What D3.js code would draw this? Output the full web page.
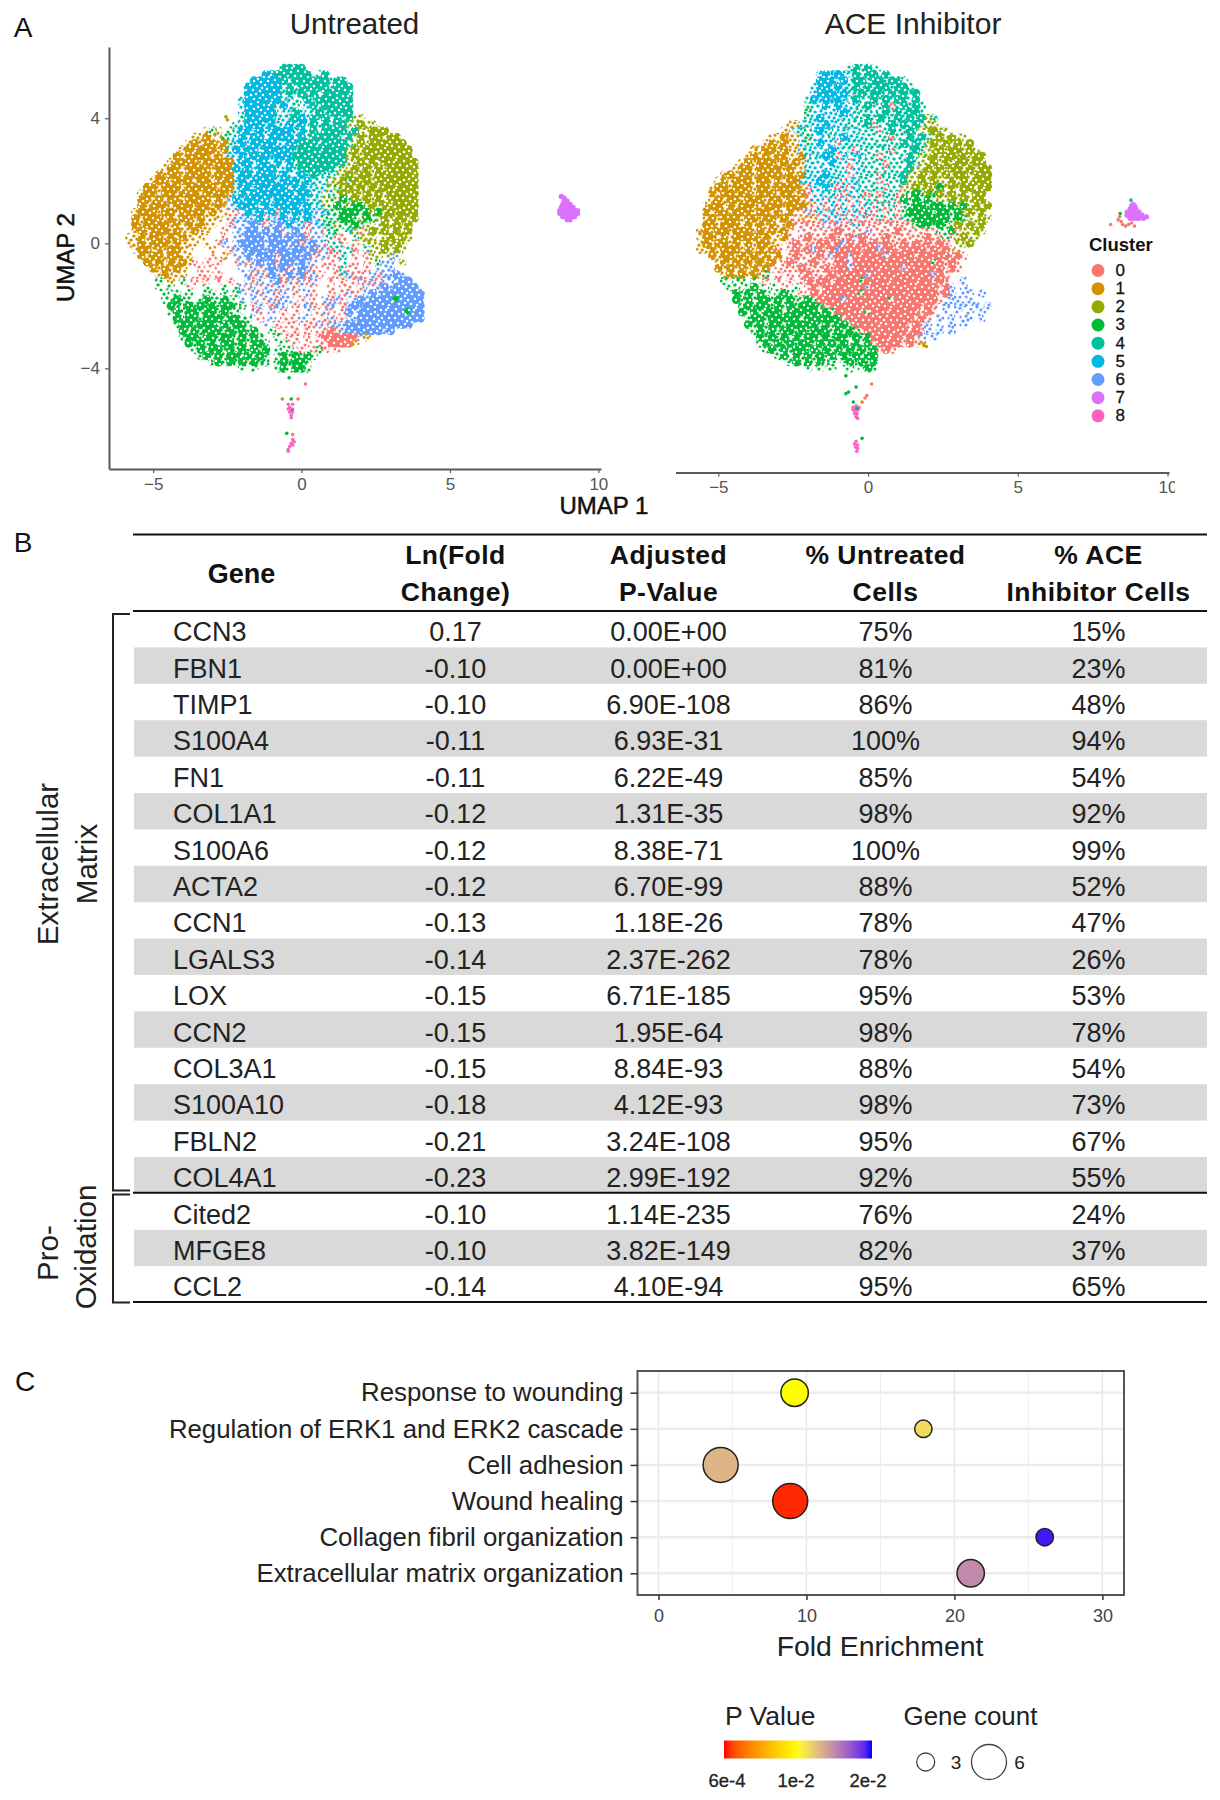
<!DOCTYPE html>
<html><head><meta charset="utf-8">
<script src="https://cdn.jsdelivr.net/npm/d3@7"></script>
<style>
html,body{margin:0;padding:0;background:#fff}
svg{display:block}
text{font-family:"Liberation Sans",Arial,sans-serif}
</style></head><body>
<svg id="fig" width="1220" height="1800" viewBox="0 0 1220 1800"></svg>
<script>
// ---------- Panel A data ----------
const clusterIds = ["0","1","2","3","4","5","6","7","8"];
const clusterColors = ["#F8766D","#D39200","#93AA00","#00BA38","#00C19F","#00B9E3","#619CFF","#DB72FB","#FF61C3"];
// Dominant cluster on a 0.2-unit UMAP lattice.
// [first column, y, cells]; digit = dense cell of that cluster, letter a-g = sparse cell of cluster 0-6, "." = empty.
const untreatedCells = [
[27,5.6,"4444"],
[24,5.4,"55444444.e4"],
[22,5.2,"555554e444444e44"],
[21,5.0,"555555e4e44444e444"],
[21,4.8,"555555e4e4e4e44444"],
[20,4.6,"f555555efee4e444444"],
[20,4.4,"f55555e5fe.f4e44444"],
[20,4.2,"f55555fef4efe4e4444"],
[20,4.0,"d55555efe45f4e4e4e4cc"],
[19,3.8,"ef555f5ef5f5e4e4e44cc2cc"],
[14,3.6,"bdb.df55f5f5555e5e4e4444e4cc222"],
[12,3.4,"bb1bbdef5f55f5555f5e44444e4c2c22c22"],
[11,3.2,"b1b11b1ef5f5555ff55444e4444ec2c222222"],
[10,3.0,"b11111b1f5f55f55555e44444444c2c22222222"],
[9,2.8,"1b1111b1bff5f555f555444444444c2c22222222"],
[8,2.6,"b1111b11111f55f55f5f5e44444444cc2c2c222222"],
[7,2.4,"b11b1111b1115f5f555ef5e444444ecc2c2c2c22222"],
[6,2.2,"1b11b1111b111f55f555f5ff5e4efecc2c22c2222222"],
[5,2.0,"b11b111b11b111f5f5555f555e5eeecc2d2c2c2222222"],
[4,1.8,"11b111b11111b11f55f55555f55efefcdc2c2c2c222222"],
[3,1.6,"b11b11b111b1111bf5f5555555f55efcec2c2c2c2c22222"],
[3,1.4,"11b1b11b1111b1bg5f5555f55555ffecdc3d2c2c2c22222"],
[3,1.2,"1b111b111b11b1bgf555f5f5555f5efcd3dc33c2c2c2222"],
[2,1.0,"b111b11b1111b1bb.ag5f5g5a5f5f5fgfdd333d3c3c2c222"],
[2,0.8,"1b111b1b11b1bbb.aggfg5afg5g5f5gfded33dc3dc2c22c2"],
[2,0.6,"1b1111b1b1b1bb..aggg6gag6g5gfagfedcdd3dc.c2c2c2"],
[2,0.4,"b1b111b1bb1bb..a.gg66g6g6ag6gaggaed.ecac2c2c2c2"],
[1,0.2,"bb1b11b1b1bbb...a.gg666g66g6g6aggeeaa.eccc.c2c2c"],
[1,0.0,"bb1b111b1bbb.b.ag.g6666g666g6ag6gaeea.a.ccc2c2c"],
[2,-0.2,"b11b1b11bb...b..agg666g666g66g6agaeeea.ecc2c2c"],
[3,-0.4,"1b11b11bb...a.b.gg6g666a666g6aggaae.a.acc.cg"],
[4,-0.6,"1b1b1b1ba.a.a..agag6g6a66g6gg.aa.e.a.a.dgg.c"],
[5,-0.8,"1b1b1b..a.a....g.gag6g6ag6ga.a.aeaa.a.ggg."],
[6,-1.0,"b1bbb..aa.a....gaga6ga6g6aga..aegaa.gagg6g"],
[6,-1.2,"d.b.d.a.a.a.a..gag.g6agagag..a.a.agagaggg66"],
[6,-1.4,"d.d..a..d..d.dgagagagagag.a..a.aa.agag6g6666"],
[7,-1.6,"d.d.d..dd.d.dg.gaggag.a.ga..a.aga.g6g6666666"],
[7,-1.8,"dd3dd.d3dd3d.g.g.agagg.a.a.gaga.g6g666636666"],
[8,-2.0,"3dd3d3d3d33dd.ag.agg.a.ga.ag.ag6g6666666666"],
[8,-2.2,"d3d33d33d3dd..ga.g.a.a.g.aga.a6g66666666366"],
[9,-2.4,"3d33d333d33dd.a.g.aa.g.a.agaagg66666666666"],
[9,-2.6,"d33d333d3d33d..g.a.aa.aagaggg66666666666"],
[10,-2.8,"3d3d333d3d3d3..d.a.a.a.aa0ag666666g6."],
[10,-3.0,"d33d33d33d3d3d..d.aa.a.a000000gb"],
[11,-3.2,"3d3d3d33d3d33d..d.a.a.aa0000b"],
[12,-3.4,"d3d33d3d3d3d3.d.d.a.ada.a"],
[13,-3.6,"d3d3d33d3d3d.d3d3d3d"],
[15,-3.8,"d3d3d3d3dd.d3d33d"],
[20,-4.0,"d.d...d3d33d"]
];
const aceCells = [
[27,5.6,"e4e4e"],
[22,5.4,"f5f5ff4e44e4"],
[22,5.2,"555f5e44e44e44e"],
[21,5.0,"f55f5fe4e4e44e44e"],
[21,4.8,"f555f5fe4e44e4e4e4"],
[20,4.6,"e5f5f5fe4ee4e4e44e4"],
[20,4.4,"dff5f5fffe4ee4ae4e4e"],
[20,4.2,"dfffff5feeefe4e4e44e"],
[20,4.0,"ef5fffefee4e4ee4e4e4ce"],
[17,3.8,"bbfeff5fffeee4aee4e4e4ecc"],
[16,3.6,"bbfedf5fefeffeeeae4ee4ecc2cc"],
[14,3.4,"bb1bbfdfffef5fefeeeeaee4e4ec2c2cc"],
[13,3.2,"b1b1bbfdf5ffafefeeeeeee4e4ec2c2c2c2"],
[11,3.0,"bb11b1bbfefff5fefaeeeeeaeee4ecc2c22c2c"],
[10,2.8,"b1b1b11bb1fef5fafeffeeaeeee4ecc2c22c2c22"],
[9,2.6,"b1b111b1b1bfeff5ffafeeeeaeee4ecc2c2c22c22"],
[8,2.4,"b11b1111b1bbeffffefaffeeeaeee4cc2c2c22c2c22"],
[6,2.2,"b1b11b1111b1b1eff5fefafeeeaeee4cc2c2c2c22c222"],
[5,2.0,"b1b111b11b1b11fff5fefaffeeeaeee4cc2c2cc2c2c222"],
[4,1.8,"b11b111b11b1111baff5fafafeeeeaeeac2c2c3c2c22c22"],
[4,1.6,"1b11b11b111b11b1afffefaffeaeaeeacd3d2d2c2c2c22"],
[4,1.4,"b1b11b111b11b11baffafafafaeeaeea3d3d3dcc2c2c22"],
[3,1.2,"b11b1b111b111b111bafafafafafaeaeaed33d33d3c3c2c2"],
[3,1.0,"1b11b111b11b1b1bagafafafafafaeaead3333d33d3c2c2"],
[3,0.8,"b1b111b11b11b1bababafafafafaaeaeaed333333d3dcc2c"],
[3,0.6,"11b111b1b1b1bb1aaaaagagaafaaaaaaaaad33d3dc2c2c2"],
[2,0.4,"b1b11b111b1b1b1a.aaaaaa0aaaagaaaa0aaaaaadd3acc2c"],
[2,0.2,"b11b1b1111b1bb1a.a0aaa0aa0g0aaa0aaaaaa0aadac2cc"],
[2,0.0,"b1b11b1b1b11bb.a0aaa00a0g0a0a0a0aa0a0a0a0a.cc2"],
[2,-0.2,"bb1b111b1b1b1a.a0a0g0a0g000a00g00a0000a0a0ac."],
[4,-0.4,"1b11b1b1b1b1.a0aaa0ag00g00000g0000a00000a0a"],
[5,-0.6,"b1b1b1b1b1.a0aaa0aaa00g0000000000000d0a0a"],
[5,-0.8,"1b1b1b1b1a.aaa0aaa0a00g00000000g000000a0a"],
[6,-1.0,"b1b1b1bd.a.a.a0aaa0a0000g0000000000g0a."],
[6,-1.2,"d.dd.d.a.a.a.a0a00a0000d00000000000a0a..g"],
[7,-1.4,"dd.d3d.d.a.d.a0a0000000g00000000000a0g.g"],
[8,-1.6,"3d3d3d.d3d.a.0a000000d000000000000a0g.gg.g"],
[8,-1.8,"3d3d33d3d3dd3d0000g0000000d0000000a.gg.g."],
[9,-2.0,"d3d33d3d3d333da000000000000000a0a.g.gg.g.g"],
[9,-2.2,"3d3d333d33333d3d00000d00000000a0a.g.g.g.g"],
[10,-2.4,"d33d33333d333333a00000000000a0a.g.g.gg.g"],
[10,-2.6,"3d3d33d33333d3d33d000000000a0ag.g.g.g."],
[11,-2.8,"d3d3d33d3d333d3d3da0000000a0ag.g.g"],
[12,-3.0,"3d3d3d3d33d3d33d3d300000a0ag.g"],
[12,-3.2,"d3d3d3d33d3d3d3d3d3a0000a0ab"],
[13,-3.4,"d3d3d33d3d3d3d3d3d3a0a"],
[15,-3.6,"d3d3d3d3d3d3d3d33"],
[17,-3.8,"d3d3d3dd.d3d3d3"],
[20,-4.0,"d.d.d..d.d3d"]
];
// Small islands: [cluster, UMAP x, UMAP y]
const untreatedIslands = [
[7,8.75,1.5],[7,8.85,1.45],[7,8.85,1.35],[7,8.95,1.35],[7,8.8,1.25],[7,8.95,1.25],[7,9.05,1.25],[7,8.75,1.15],[7,8.85,1.15],[7,8.95,1.15],[7,9.05,1.15],[7,9.15,1.15],
[7,8.7,1.05],[7,8.8,1.05],[7,8.9,1.05],[7,9,1.05],[7,9.1,1.05],[7,9.2,1.05],[7,9.3,1.05],[7,8.7,.95],[7,8.8,.95],[7,8.9,.95],[7,9,.95],[7,9.1,.95],[7,9.2,.95],[7,9.3,.95],
[7,8.8,.85],[7,8.9,.85],[7,9,.85],[7,9.1,.85],[7,9.2,.85],[7,8.95,.75],[7,9.05,.75],
[8,-.45,-5.15],[8,-.3,-5.15],[8,-.4,-5.25],[8,-.3,-5.3],[8,-.45,-5.3],[3,-.33,-5.35],[8,-.4,-5.4],[8,-.3,-5.4],[8,-.35,-5.5],[8,-.35,-5.58],
[8,-.3,-6.28],[8,-.25,-6.35],[8,-.35,-6.4],[8,-.3,-6.45],[8,-.4,-6.5],[8,-.45,-6.6],[8,-.45,-6.65],
[3,-.42,-4.3],[0,.13,-4.5],[1,-.65,-4.98],[3,-.35,-4.98],[0,-.12,-4.98],[3,-.5,-6.08],[0,-.3,-6.12],[2,-2.55,4.05],[1,-2.5,3.95]
];
const aceIslands = [
[4,8.78,1.38],[7,8.85,1.25],[7,8.8,1.2],[7,8.9,1.2],[7,8.75,1.1],[7,8.85,1.1],[7,8.95,1.1],[7,8.65,1],[7,8.75,1],[7,8.85,1],[7,8.95,1],[7,9.05,1],
[7,8.65,.9],[7,8.75,.9],[7,8.85,.9],[7,8.95,.9],[7,9.05,.9],[7,9.15,.9],[7,9.3,.85],[7,8.75,.8],[7,8.85,.8],[7,8.95,.8],[7,9.05,.8],[7,9.2,.8],
[0,8.1,.6],[0,8.4,.85],[0,8.35,.75],[0,8.45,.7],[0,8.5,.6],[0,8.6,.55],[0,8.7,.6],[0,8.8,.65],[0,8.9,.55],[3,8.42,.95],
[8,-.5,-5.25],[8,-.4,-5.2],[8,-.3,-5.25],[8,-.5,-5.33],[8,-.42,-5.35],[8,-.33,-5.33],[3,-.38,-5.28],[8,-.45,-5.45],[8,-.37,-5.45],[8,-.4,-5.55],[8,-.35,-5.6],
[8,-.4,-6.33],[8,-.45,-6.42],[8,-.35,-6.45],[8,-.42,-6.52],[8,-.35,-6.56],[8,-.38,-6.65],
[3,-.74,-4.24],[0,.12,-4.5],[0,-.04,-4.87],[0,-.1,-4.95],[3,-.74,-4.81],[3,-.65,-4.76],[3,-.4,-4.6],[3,-.49,-5.08],[1,-.2,-5.08],[3,-.2,-6.24],[1,1.95,-3.3],[1,1.85,-3.22]
];
const umapXTicks = [-5,0,5,10];
const umapYTicks = [-4,0,4];
// Hand-placed stipple tiles used as the fill of lattice cells (a style, not data).
const speckleHoles = [[2,3],[9,1],[15,4],[22,2],[26,7],[5,8],[12,9],[19,8],[1,12],[8,13],[16,12],[23,12],[4,17],[11,18],[18,16],[25,17],[2,22],[7,21],[14,22],[21,21],[26,24],[5,26],[11,25],[17,26],[23,27],[13,15],[20,4],[9,6]];
const speckleDots = [[1,1],[6,2],[11,0],[17,3],[23,1],[27,4],[3,6],[9,5],[14,7],[20,6],[25,9],[0,10],[6,11],[12,10],[17,12],[22,12],[27,13],[3,15],[9,15],[14,14],[20,16],[25,17],[1,19],[6,19],[12,19],[17,21],[23,20],[27,21],[4,23],[9,24],[15,24],[20,25],[25,25],[1,26],[7,27],[12,27],[18,27],[23,27]];

// ---------- Panel B data ----------
const genes = ["CCN3","FBN1","TIMP1","S100A4","FN1","COL1A1","S100A6","ACTA2","CCN1","LGALS3","LOX","CCN2","COL3A1","S100A10","FBLN2","COL4A1","Cited2","MFGE8","CCL2"];
const lnFoldChange = ["0.17","-0.10","-0.10","-0.11","-0.11","-0.12","-0.12","-0.12","-0.13","-0.14","-0.15","-0.15","-0.15","-0.18","-0.21","-0.23","-0.10","-0.10","-0.14"];
const adjustedP = ["0.00E+00","0.00E+00","6.90E-108","6.93E-31","6.22E-49","1.31E-35","8.38E-71","6.70E-99","1.18E-26","2.37E-262","6.71E-185","1.95E-64","8.84E-93","4.12E-93","3.24E-108","2.99E-192","1.14E-235","3.82E-149","4.10E-94"];
const pctUntreated = ["75%","81%","86%","100%","85%","98%","100%","88%","78%","78%","95%","98%","88%","98%","95%","92%","76%","82%","95%"];
const pctAce = ["15%","23%","48%","94%","54%","92%","99%","52%","47%","26%","53%","78%","54%","73%","67%","55%","24%","37%","65%"];

// ---------- Panel C data ----------
const terms = ["Response to wounding","Regulation of ERK1 and ERK2 cascade","Cell adhesion","Wound healing","Collagen fibril organization","Extracellular matrix organization"];
const foldEnrichment = [9.2,17.9,4.2,8.9,26.1,21.1];
const pValues = [0.0100,0.0115,0.0131,0.0010,0.0195,0.0150];
const geneCounts = [4,3,6,6,3,4];
const foldTicks = [0,10,20,30];
const foldMinor = [5,15,25];
const pTicks = [0.0006,0.01,0.02];
const pTickLabels = ["6e-4","1e-2","2e-2"];
const countLegend = [3,6];

// ---------- Drawing ----------
const svg = d3.select("#fig");
const ink = "#1c1c1c", axisInk = "#5a5a5a";
const defsRoot = svg.append("defs");

function label(g,x,y,t,size,opts={}){
  const s = g.append("text").attr("x",x).attr("y",y).attr("font-size",size)
    .attr("fill",opts.fill||ink).attr("text-anchor",opts.anchor||"middle")
    .attr("dominant-baseline","central").text(t);
  if(opts.weight) s.attr("font-weight",opts.weight);
  if(opts.stroke) s.attr("stroke",opts.fill||ink).attr("stroke-width",opts.stroke);
  if(opts.ls) s.attr("letter-spacing",opts.ls);
  if(opts.rotate) s.attr("transform",`rotate(${opts.rotate} ${x} ${y})`);
  return s;
}
[["A",23,27],["B",23,542],["C",25,1381]].forEach(d=>label(svg,d[1],d[2],d[0],28,{fill:"#111"}));

const color = d3.scaleOrdinal(clusterIds,clusterColors);
// stipple fills, one dense and one sparse per cluster
clusterIds.forEach((k,i)=>{
  const tf = `translate(${i*5},${i*9})`;
  const dp = defsRoot.append("pattern").attr("id","dense"+k).attr("width",28).attr("height",28)
    .attr("patternUnits","userSpaceOnUse").attr("patternTransform",tf);
  dp.append("rect").attr("width",28).attr("height",28).attr("fill",color(k));
  speckleHoles.forEach(p=>dp.append("circle").attr("cx",p[0]).attr("cy",p[1]).attr("r",1.25).attr("fill","#fff"));
  const sp = defsRoot.append("pattern").attr("id","sparse"+k).attr("width",28).attr("height",28)
    .attr("patternUnits","userSpaceOnUse").attr("patternTransform",tf);
  speckleDots.forEach(p=>sp.append("circle").attr("cx",p[0]).attr("cy",p[1]).attr("r",1.6).attr("fill",color(k)));
});
const blur = defsRoot.append("filter").attr("id","soft").attr("x","-2%").attr("y","-2%").attr("width","104%").attr("height","104%");
blur.append("feGaussianBlur").attr("stdDeviation",0.35);

const sparseCodes = "abcdefg";
function expand(rows){
  const out=[];
  rows.forEach(([c0,y,cells])=>{
    [...cells].forEach((ch,i)=>{
      if(ch===".") return;
      const sp = sparseCodes.indexOf(ch);
      out.push({col:c0+i,y,k:sp>=0?String(sp):ch,sparse:sp>=0});
    });
  });
  return out;
}
function umap(cfg){
  const g = svg.append("g");
  const x = d3.scaleLinear().domain(cfg.xd).range(cfg.xr);
  const y = d3.scaleLinear().domain([-7.22,6.28]).range([469,47]);
  const cols = d3.scaleLinear().domain([0,50]).range([-6,4]);
  const cells = expand(cfg.cells);
  const dots = g.append("g").attr("filter","url(#soft)");
  dots.append("g").selectAll("circle").data(cells).join("circle")
    .attr("cx",d=>x(cols(d.col))).attr("cy",d=>y(d.y))
    .attr("r",4.4)
    .attr("fill",d=>`url(#${d.sparse?"sparse":"dense"}${d.k})`);
  dots.append("g").selectAll("circle").data(cfg.islands).join("circle")
    .attr("cx",d=>x(d[1])).attr("cy",d=>y(d[2]))
    .attr("r",d=>d[0]===7?2.6:1.8)
    .attr("fill",d=>color(String(d[0])));
  const ax = g.append("g").attr("transform",`translate(0,${cfg.axisY})`)
    .call(d3.axisBottom(x).tickValues(umapXTicks).tickSizeInner(4).tickSizeOuter(0).tickPadding(cfg.pad));
  ax.select(".domain").attr("stroke",axisInk).attr("stroke-width",2);
  ax.selectAll(".tick line").attr("stroke",axisInk).attr("stroke-width",1.2);
  ax.selectAll("text").attr("font-size",17).attr("fill","#555");
  if(cfg.yAxis){
    const ay = g.append("g").attr("transform",`translate(${cfg.xr[0]},0)`)
      .call(d3.axisLeft(y).tickValues(umapYTicks).tickSizeInner(4).tickSizeOuter(0).tickPadding(5));
    ay.select(".domain").attr("stroke",axisInk).attr("stroke-width",2);
    ay.selectAll(".tick line").attr("stroke",axisInk).attr("stroke-width",1.2);
    ay.selectAll("text").attr("font-size",17).attr("fill","#555");
  }
  label(g,cfg.titleX,23.5,cfg.title,cfg.titleSize,{fill:"#222"});
}
umap({title:"Untreated",titleSize:29.5,titleX:354.5,cells:untreatedCells,islands:untreatedIslands,xd:[-6.49,10.09],xr:[109,601],axisY:469,yAxis:true,pad:5});
umap({title:"ACE Inhibitor",titleSize:30,titleX:913,cells:aceCells,islands:aceIslands,xd:[-6.43,10.05],xr:[675.5,1169],axisY:472.6,yAxis:false,pad:4});
// right edge of the ACE panel's last tick label is cropped in the figure
svg.append("rect").attr("x",1175).attr("y",474).attr("width",12).attr("height",24).attr("fill","#fff");
label(svg,65,257.5,"UMAP 2",24,{rotate:-90,fill:"#111",stroke:.5});
label(svg,604,505,"UMAP 1",24,{fill:"#111",stroke:.5});

// Cluster legend
const lg = svg.append("g");
label(lg,1089,244,"Cluster",18.5,{anchor:"start",weight:"bold",fill:"#111"});
const ly = d3.scalePoint().domain(clusterIds).range([270.5,415.8]);
lg.selectAll("circle").data(clusterIds).join("circle")
  .attr("cx",1098).attr("cy",d=>ly(d)).attr("r",6.5).attr("fill",d=>color(d));
clusterIds.forEach(k=>label(lg,1115.5,ly(k),k,17,{anchor:"start",fill:"#111",stroke:.3}));

// Table
const tb = svg.append("g");
const rowY = d3.scaleBand().domain(d3.range(genes.length)).range([611,611+19*36.4]);
tb.selectAll("rect").data(d3.range(genes.length).filter(i=>i%2===1)).join("rect")
  .attr("x",134).attr("width",1073).attr("y",i=>rowY(i)).attr("height",rowY.bandwidth()).attr("fill","#d9d9d9");
const colX = [455.5,668.5,885.5,1098.5];
const hdr = {fill:"#111",weight:"bold"};
label(tb,241.5,574,"Gene",27,hdr);
[["Ln(Fold","Change)"],["Adjusted","P-Value"],["% Untreated","Cells"],["% ACE","Inhibitor Cells"]].forEach((h,i)=>{
  label(tb,colX[i],554.5,h[0],26.5,{...hdr,ls:.5});
  label(tb,colX[i],591.5,h[1],26.5,{...hdr,ls:.5});
});
const cols = [lnFoldChange,adjustedP,pctUntreated,pctAce];
genes.forEach((g,i)=>{
  const cy = rowY(i)+rowY.bandwidth()/2+3;
  label(tb,173,cy,g,27,{anchor:"start",fill:"#222"});
  cols.forEach((c,j)=>label(tb,colX[j],cy,c[i],27,{fill:"#222"}));
});
[534.5,611,1192.7,1302].forEach(y=>tb.append("line").attr("x1",133).attr("x2",1207).attr("y1",y).attr("y2",y).attr("stroke","#111").attr("stroke-width",2));
[[614,1190.5],[1194.5,1302.5]].forEach(([a,b])=>{
  tb.append("path").attr("d",`M130,${a}H113V${b}H130`).attr("fill","none").attr("stroke","#222").attr("stroke-width",2);
});
label(tb,47,864,"Extracellular",29.5,{rotate:-90,fill:"#222"});
label(tb,86,864,"Matrix",29.5,{rotate:-90,fill:"#222"});
label(tb,47,1253,"Pro-",29.5,{rotate:-90,fill:"#222"});
label(tb,85,1247,"Oxidation",29.5,{rotate:-90,fill:"#222"});

// Panel C
const pc = svg.append("g");
const px = d3.scaleLinear().domain([-1.42,31.46]).range([637.5,1124]);
const py = d3.scalePoint().domain(terms).range([1392.7,1573.3]);
const pColor = d3.scaleLinear().domain(pTicks).range(["#ff0000","#ffff00","#0000ff"]).interpolate(d3.interpolateLab);
const pSize = d3.scaleLinear().domain([3,4,6]).range([8.7,13.7,17.5]);
foldMinor.forEach(v=>pc.append("line").attr("x1",px(v)).attr("x2",px(v)).attr("y1",1371).attr("y2",1595).attr("stroke","#efefef").attr("stroke-width",1));
foldTicks.forEach(v=>pc.append("line").attr("x1",px(v)).attr("x2",px(v)).attr("y1",1371).attr("y2",1595).attr("stroke","#e6e6e6").attr("stroke-width",1.5));
terms.forEach(t=>pc.append("line").attr("x1",637.5).attr("x2",1124).attr("y1",py(t)).attr("y2",py(t)).attr("stroke","#ececec").attr("stroke-width",2.5));
pc.append("rect").attr("x",637.5).attr("y",1371).attr("width",486.5).attr("height",224).attr("fill","none").attr("stroke","#555").attr("stroke-width",2);
const pxA = pc.append("g").attr("transform","translate(0,1595)")
  .call(d3.axisBottom(px).tickValues(foldTicks).tickSize(5).tickPadding(9));
pxA.select(".domain").remove();
pxA.selectAll(".tick line").attr("stroke","#333").attr("stroke-width",1.5);
pxA.selectAll("text").attr("font-size",18).attr("fill","#444");
const pyA = pc.append("g").attr("transform","translate(637.5,0)")
  .call(d3.axisLeft(py).tickSize(7).tickPadding(7));
pyA.select(".domain").remove();
pyA.selectAll(".tick line").attr("stroke","#333").attr("stroke-width",1.5);
pyA.selectAll("text").attr("font-size",25.8).attr("fill","#222");
pc.append("g").selectAll("circle").data(terms).join("circle")
  .attr("cx",(d,i)=>px(foldEnrichment[i])).attr("cy",d=>py(d))
  .attr("r",(d,i)=>pSize(geneCounts[i]))
  .attr("fill",(d,i)=>pColor(pValues[i])).attr("stroke","#222").attr("stroke-width",1.5);
label(pc,880,1646,"Fold Enrichment",28.4,{fill:"#222"});

// Colour + size legends
label(pc,725,1715.5,"P Value",26.5,{anchor:"start",fill:"#222"});
label(pc,903.5,1715.5,"Gene count",25.9,{anchor:"start",fill:"#222"});
const barX = d3.scaleLinear().domain(pTicks).range([724,797,872]);
const grad = defsRoot.append("linearGradient").attr("id","pbar");
d3.range(0,1.0001,0.05).forEach(t=>{
  const v = barX.invert(724+148*t);
  grad.append("stop").attr("offset",t).attr("stop-color",pColor(v));
});
pc.append("rect").attr("x",724).attr("y",1740.5).attr("width",148).attr("height",18).attr("fill","url(#pbar)");
pTicks.forEach((v,i)=>label(pc,barX(v)+[3,-1,-4][i],1780,pTickLabels[i],18.5,{fill:"#222",stroke:.3}));
const lgx = [925.7,989], ltx = [956,1019.5];
const lgR = d3.scaleLinear().domain([3,6]).range([9,17.5]);
countLegend.forEach((c,i)=>{
  pc.append("circle").attr("cx",lgx[i]).attr("cy",1762).attr("r",lgR(c))
    .attr("fill","#fff").attr("stroke","#444").attr("stroke-width",1.3);
  label(pc,ltx[i],1762,String(c),19,{fill:"#222"});
});
</script>
</body></html>
